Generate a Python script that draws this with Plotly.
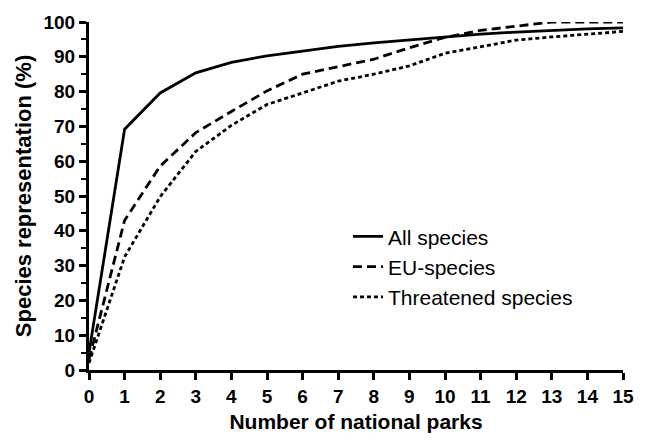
import plotly.graph_objects as go

# Cumulative species representation by number of national parks
parks = list(range(0, 16))
all_species = [5, 69.2, 79.6, 85.4, 88.4, 90.3, 91.6, 93.0, 94.0, 94.9, 95.8, 96.5, 97.1, 97.6, 98.0, 98.3]
eu_species = [3, 43.0, 58.6, 68.2, 74.3, 80.2, 85.0, 87.2, 89.3, 92.6, 95.6, 97.6, 98.9, 100, 100, 100]
threatened = [2, 32.5, 49.8, 62.8, 70.3, 76.3, 79.6, 83.0, 85.0, 87.4, 91.0, 93.0, 94.8, 95.7, 96.4, 97.3]

series = [
    ("All species", all_species, "solid"),
    ("EU-species", eu_species, "9px,5px"),
    ("Threatened species", threatened, "4px,3px"),
]

x_ticks = list(range(0, 16))
y_ticks = list(range(0, 101, 10))

fig = go.Figure()
for name, vals, dash in series:
    fig.add_trace(go.Scatter(
        x=parks, y=vals, mode="lines", name=name,
        line=dict(color="black", width=2.8, dash=dash),
    ))

tick_font = dict(family="Liberation Sans", size=19, color="black", weight="bold")

fig.update_layout(
    width=646, height=442,
    margin=dict(l=89, r=19, t=20, b=64),
    paper_bgcolor="white", plot_bgcolor="white",
    font=dict(family="Liberation Sans", color="black"),
    showlegend=True,
    legend=dict(
        x=0.485, y=0.442, xanchor="left", yanchor="top",
        font=dict(family="Liberation Sans", size=21, color="black"),
        bgcolor="rgba(0,0,0,0)", itemwidth=30,
    ),
    xaxis=dict(
        range=[0, 15], tickmode="array", tickvals=x_ticks,
        showgrid=False, zeroline=False,
        showline=True, linecolor="black", linewidth=3,
        ticks="outside", ticklen=7, tickwidth=2.5, tickcolor="black",
        tickfont=tick_font,
        title=dict(text="Number of national parks",
                   font=dict(family="Liberation Sans", size=21, color="black", weight="bold"),
                   standoff=9),
    ),
    yaxis=dict(
        range=[0, 100], tickmode="array", tickvals=y_ticks,
        showgrid=False, zeroline=False,
        showline=True, linecolor="black", linewidth=3,
        ticks="outside", ticklen=7, tickwidth=2.5, tickcolor="black",
        tickfont=tick_font,
        minor=dict(dtick=5, ticks="outside", ticklen=5, tickwidth=2, tickcolor="black"),
        title=dict(text="Species representation (%)",
                   font=dict(family="Liberation Sans", size=22, color="black", weight="bold"),
                   standoff=6),
    ),
)

fig.write_html("out.html")
